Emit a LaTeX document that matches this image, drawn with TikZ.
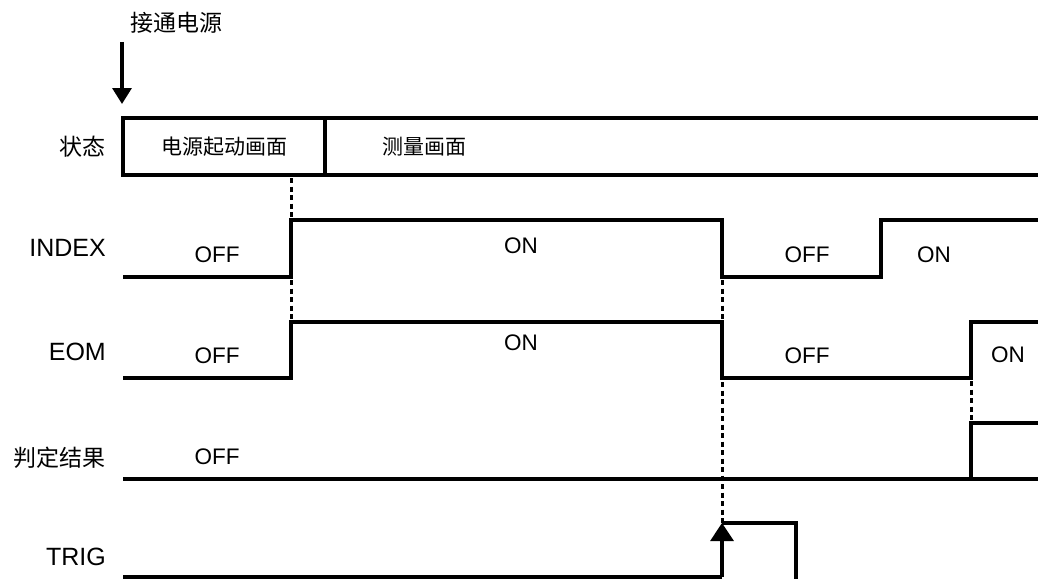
\documentclass[tikz,border=0pt]{standalone}
\usepackage{fontspec}
\setmainfont{Liberation Sans}
\newfontfamily\cjk{Noto Sans CJK SC}
\usetikzlibrary{arrows.meta, positioning}

\begin{document}
\begin{tikzpicture}[
    x=1pt, y=-1pt,
    sig/.style    = {line width=3.2pt, line join=miter},
    vdot/.style   = {line width=3pt, dash pattern=on 5pt off 3.5pt},
    rowlbl/.style = {anchor=east, inner sep=0pt,
                     font=\fontsize{25}{30}\selectfont},
    cjklbl/.style = {anchor=east, inner sep=0pt,
                     font=\cjk\fontsize{23}{28}\selectfont},
    lvl/.style    = {inner sep=0pt, font=\fontsize{22.5}{26}\selectfont},
    scr/.style    = {inner sep=0pt, font=\cjk\fontsize{21}{26}\selectfont},
    arr/.style    = {-{Triangle[length=16pt, width=19pt]}, line width=3.2pt},
    trgarr/.style = {-{Triangle[length=18pt, width=23pt]}, line width=3.2pt}
  ]

  \useasboundingbox (0,0) rectangle (1038,578);

  %% Power on
  \node[anchor=west, inner sep=0pt, font=\cjk\fontsize{23}{28}\selectfont]
       (pwr) at (130,23) {接通电源};
  \coordinate (pwrtop) at (122,42);
  \coordinate (pwrtip) at (122,104);
  \draw[arr] (pwrtop) -- (pwrtip);

  %% State row
  \node[cjklbl] (st) at (106,147) {状态};
  \draw[sig] (1040,118) -- (123,118) -- (123,175) -- (1040,175);
  \draw[sig] (325,118) -- (325,175);
  \node[scr] (boot) at (224,147) {电源起动画面};
  \node[scr] (meas) at (424,147) {测量画面};

  %% INDEX
  \node[rowlbl] (idx) at (106,248) {INDEX};
  \draw[sig] (123,277) -- (291,277) -- (291,220) -- (722,220)
             -- (722,277) -- (881,277) -- (881,220) -- (1040,220);
  \node[lvl] (idx1) at (217,255) {OFF};
  \node[lvl] (idx2) at (521,246) {ON};
  \node[lvl] (idx3) at (807,255) {OFF};
  \node[lvl] (idx4) at (934,255) {ON};

  %% EOM
  \node[rowlbl] (eom) at (106,352) {EOM};
  \draw[sig] (123,378) -- (291,378) -- (291,322) -- (722,322)
             -- (722,378) -- (971,378) -- (971,322) -- (1040,322);
  \node[lvl] (eom1) at (217,356) {OFF};
  \node[lvl] (eom2) at (521,343) {ON};
  \node[lvl] (eom3) at (807,356) {OFF};
  \node[lvl] (eom4) at (1008,355) {ON};

  %% Judgement result
  \node[cjklbl] (res) at (106,458) {判定结果};
  \draw[sig] (123,479) -- (1040,479);
  \draw[sig] (971,479) -- (971,423) -- (1040,423);
  \node[lvl] (res1) at (217,457) {OFF};

  %% TRIG
  \node[rowlbl] (trg) at (106,557) {TRIG};
  \coordinate (trglow) at (722,577);
  \coordinate (trghigh) at (722,523);
  \draw[sig] (123,577) -- (trglow);
  \draw[trgarr] (trglow) -- (trghigh);
  \draw[sig] (trghigh) -- (796,523) -- (796,580);

  %% Dotted guides
  \draw[vdot] (291,178) -- (291,320);
  \draw[vdot] (722,280) -- (trghigh);
  \draw[vdot] (971,381) -- (971,421);

\end{tikzpicture}
\end{document}
